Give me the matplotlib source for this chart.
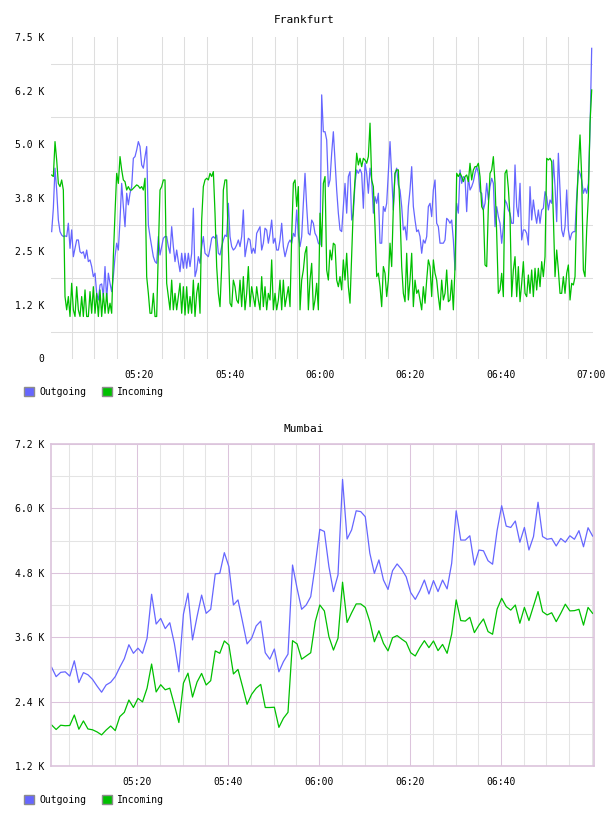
import numpy as np
import matplotlib
matplotlib.use("Agg")
import matplotlib.pyplot as plt
from matplotlib.patches import Patch

plt.rcParams["font.family"] = ["DejaVu Sans Mono", "DejaVu Sans"]
plt.rcParams["font.size"] = 7

OUT_COLOR = "#6666ff"
IN_COLOR = "#00c000"
GRID_GRAY = "#dedede"
GRID_PINK = "#dcc4dc"

# time axis is minutes after 05:00
fra_start, fra_end = 0.6, 120.15
fra_out = [
    2960, 3505, 4440, 3930, 3230, 2960, 2880, 2845, 2860, 2845,
    3155, 2570, 3000, 2375, 2570, 2765, 2765, 2490, 2455, 2490,
    2335, 2530, 2260, 2300, 2145, 1910, 1990, 1520, 1365, 1715,
    1740, 1445, 2145, 1365, 1990, 1755, 1560, 1910, 2375, 2690,
    2530, 3230, 4085, 3545, 3075, 3855, 3585, 3855, 4010, 4670,
    4710, 4865, 5060, 4945, 4515, 4440, 4710, 4945, 3115, 2845,
    2610, 2375, 2260, 2220, 2845, 2415, 2610, 2805, 2845, 2845,
    2610, 2455, 3075, 2610, 2260, 2530, 2260, 2025, 2455, 2105,
    2455, 2105, 2455,
    2145, 2455, 3505, 1910, 2065, 2375, 2220, 2610, 2845, 2455,
    2415, 2375, 2570, 2805, 2845, 2805, 2880, 2455, 2415, 2610,
    2765, 2880, 2845, 3620, 2845, 2610, 2530, 2570, 2650, 2765,
    2610, 2845, 3465, 2375, 2610, 2805, 2765, 2455, 2570, 2455,
    2920, 2995, 3075, 2530, 2690, 3040, 2995, 2690, 2920, 3230,
    2690, 2805, 2530, 2530, 2765, 3155, 2610, 2375, 2530, 2690,
    2765, 2690, 2920, 2845, 3465, 2880, 2610, 2845, 3620, 4320,
    3545, 2920, 2880, 3230, 3155, 2920, 2845, 2690, 2650, 6150,
    5290,
    5290, 5100, 4010, 4165, 4790, 5290, 4630, 3930, 3390, 3000,
    2960, 3545, 4085, 3390, 4245, 4360, 3230, 3390, 4085, 4400,
    4320, 4415, 4320, 3505, 4555, 4320, 3855, 4440, 4165, 3390,
    3775, 3620, 3855, 2690, 2690, 3545, 3430, 3620, 4320, 5060,
    4245, 3465, 4320, 4440, 4050, 3930, 3545, 3000, 3075, 2765,
    3545, 3930, 4475, 3545, 3230, 2960, 3000, 2845, 2455, 2765,
    2690, 2845, 3545, 3620, 3310, 3930, 4165, 3155, 3075, 2690,
    2690, 2690, 2765, 3270, 3230, 3155, 3230, 2765, 2065, 3620,
    3390,
    4398, 4087, 4243, 4204, 3426, 4243, 3931, 4009, 4126, 4320,
    4476, 4320, 3892, 3854, 3465, 3620, 4087, 3698, 4009, 4204,
    4087, 3076, 3542, 3309, 3154, 2687, 3076, 3698, 3620, 3465,
    3387, 3154, 3154, 4515, 3542, 3309, 4087, 2765, 2998, 2998,
    2920, 2648, 4009, 3231, 3698, 3387, 3154, 3465, 3154, 3465,
    3503, 3892, 3776, 3465, 3698, 3620, 4631, 4009, 3192, 4787,
    3931, 2998, 2843, 3076, 3931, 2998, 2765, 2920, 2959, 2959,
    3776, 4398, 4320, 4165, 3854, 3970, 3854, 4087, 5330, 7236,
]
fra_in = [
    4280, 4245, 5060, 4630, 4085, 4010, 4165, 3930, 1445, 1135,
    1445, 980, 1755, 1135, 980, 1675, 1135, 980, 1445, 980,
    1600, 980, 980, 1560, 1055, 1675, 1055, 1520, 980, 1600,
    980, 1520, 1055, 1520, 1055, 1290, 1055, 2375, 3390, 4320,
    4085, 4710, 4400, 4165, 4125, 3930, 4010, 3930, 3930, 3970,
    4010, 4050, 4025, 3970, 4010, 3930, 4205, 1910, 1520, 1055,
    1055, 1520, 980, 980, 2530, 3930, 4010, 4165, 4165, 1755,
    1445, 1135, 1830, 1135, 1520, 1135, 1445, 1755, 1055, 1675,
    1015, 1675, 1055,
    1445, 1055, 1830, 980, 1520, 1755, 1055, 3230, 4010, 4165,
    4205, 4165, 4320, 4245, 4360, 3390, 2145, 1520, 1210, 2145,
    3930, 4165, 4165, 2610, 1290, 1210, 1830, 1675, 1365, 1290,
    1830, 1210, 1910, 1135, 1520, 2145, 1210, 1675, 1445, 1210,
    1675, 1365, 1135, 1910, 1210, 1675, 1135, 1520, 1365, 2300,
    1135, 1520, 1135, 1365, 1830, 1135, 1830, 1210, 1445, 1675,
    1210, 2845, 4085, 4165, 3545, 4010, 1135, 1830, 2065, 2455,
    2610, 1135, 1830, 2220, 1135, 1365, 1755, 1135, 3390, 2610,
    4085,
    4245, 2065, 1830, 2530, 2300, 2690, 2650, 1830, 1675, 1910,
    1600, 2300, 1830, 2455, 1675, 1290, 2455, 3545, 4165, 4790,
    4515, 4670, 4475, 4670, 4630, 4555, 4710, 5490, 4165, 4010,
    3075, 1910, 1990, 1675, 1210, 2145, 1990, 1445, 1830, 2690,
    2145, 3545, 4320, 4400, 4400, 3390, 2145, 1520, 1325, 2455,
    1365, 1830, 2455, 1210, 1830, 1520, 1600, 1365, 1135, 1675,
    1290, 1830, 2300, 2145, 1445, 2300, 1990, 1830, 1445, 1135,
    1830, 1365, 1520, 2065, 1325, 1365, 1830, 1135, 2145, 4320,
    4245,
    4320, 4243, 4126, 4243, 4281, 4126, 4554, 4165, 4398, 4476,
    4476, 4554, 4243, 3542, 3465, 2182, 2143, 3542, 4320, 4398,
    4709, 4087, 2920, 1520, 1598, 1987, 1443, 4320, 4398, 3970,
    3309, 1443, 2065, 2376, 1443, 2143, 1326, 1754, 2259, 1520,
    1443, 1948, 1520, 2065, 1443, 2104, 1598, 2104, 1676, 2259,
    1909, 2376, 4670, 4631, 4670, 4592, 3309, 1909, 2531, 2065,
    1520, 1520, 1909, 1520, 1987, 2182, 1365, 1754, 1715, 1909,
    3542, 4476, 5215, 4243, 2065, 1909, 2998, 3776, 5486, 6265,
]
fra_yticks = [0, 1250, 2500, 3750, 5000, 6250, 7500]
fra_ylabels = ["0", "1.2 K", "2.5 K", "3.8 K", "5.0 K", "6.2 K", "7.5 K"]
fra_xticks = [20, 40, 60, 80, 100, 120]
fra_xlabels = ["05:20", "05:40", "06:00", "06:20", "06:40", "07:00"]

mum_start, mum_end = 1.15, 120.15
mum_out = [
    3040, 2865, 2945, 2955, 2875, 3160, 2755, 2940, 2900, 2815,
    2690, 2575, 2710, 2760, 2865, 3040, 3200, 3460, 3300, 3395,
    3300, 3580, 4400, 3845, 3950, 3760, 3870, 3485, 2955, 4030,
    4420, 3550, 3985, 4385, 4045, 4120, 4780, 4790, 5175, 4915,
    4200, 4295, 3890, 3475, 3580, 3810, 3900, 3310, 3190, 3380,
    2955, 3145, 3285, 4945, 4510, 4120, 4200, 4355, 4945, 5610,
    5570, 4915, 4450, 4760, 6540, 5430, 5600, 5955, 5940, 5845,
    5165, 4790, 5040, 4665, 4490, 4840, 4965, 4865, 4725, 4430,
    4305, 4465, 4665, 4405, 4655, 4450, 4665, 4500, 4975, 5955,
    5410, 5410, 5490, 4945, 5225, 5210, 5025, 4960, 5590, 6050,
    5670, 5645, 5765, 5370, 5645, 5225, 5475, 6115, 5475, 5425,
    5440, 5300, 5440, 5370, 5490, 5425, 5585, 5285, 5640, 5485,
]
mum_in = [
    1965, 1880, 1960, 1950, 1955, 2150, 1885, 2040, 1890, 1875,
    1835, 1780, 1870, 1945, 1860, 2120, 2200, 2430, 2290, 2460,
    2395, 2650, 3100, 2580, 2715, 2620, 2650, 2340, 2010, 2745,
    2930, 2485, 2765, 2925, 2710, 2790, 3345, 3300, 3530, 3455,
    2915, 3000, 2680, 2350, 2535, 2650, 2720, 2290, 2290, 2295,
    1920, 2090, 2200, 3535, 3475, 3190, 3250, 3310, 3890, 4200,
    4090, 3610, 3360, 3580, 4625, 3875, 4055, 4220, 4220, 4155,
    3890, 3515, 3720, 3485, 3345, 3590, 3630, 3565, 3505, 3310,
    3250, 3405, 3535, 3405, 3530, 3350, 3465, 3300, 3655, 4295,
    3910, 3900, 3970, 3685, 3825, 3940, 3705, 3655, 4125, 4325,
    4170, 4105, 4200, 3860, 4155, 3910, 4180, 4450, 4075, 4015,
    4055, 3890, 4045, 4215, 4090, 4095, 4120, 3825, 4155, 4045,
]
mum_yticks = [1200, 2400, 3600, 4800, 6000, 7200]
mum_ylabels = ["1.2 K", "2.4 K", "3.6 K", "4.8 K", "6.0 K", "7.2 K"]
mum_xticks = [20, 40, 60, 80, 100]
mum_xlabels = ["05:20", "05:40", "06:00", "06:20", "06:40"]

fig = plt.figure(figsize=(6.08, 8.16), dpi=100)
W, H = 608.0, 816.0

def legend_at(ypix):
    handles = [Patch(facecolor=OUT_COLOR, edgecolor="#8c8c8c", lw=1.0),
               Patch(facecolor=IN_COLOR, edgecolor="#8c8c8c", lw=1.0)]
    fig.legend(handles, ["Outgoing", "Incoming"], loc="center left",
               bbox_to_anchor=(24 / W, 1 - ypix / H), ncol=2, frameon=False,
               handlelength=1.05, handleheight=1.05, handletextpad=0.5,
               columnspacing=1.65, borderpad=0, borderaxespad=0, fontsize=7)

# ---- Frankfurt ----
ax1 = fig.add_axes([51 / W, 1 - 358.5 / H, 542 / W, 321.5 / H])
t1 = np.linspace(fra_start, fra_end, len(fra_out))
ax1.plot(t1, fra_out, color=OUT_COLOR, lw=0.9)
ax1.plot(t1, fra_in, color=IN_COLOR, lw=0.9)
ax1.set_xlim(0.45, 120.44)
ax1.set_ylim(0, 7500)
ax1.set_xticks(fra_xticks)
ax1.set_xticklabels(fra_xlabels)
ax1.set_xticks(np.arange(5, 121, 5), minor=True)
ax1.set_yticks(fra_yticks)
ax1.set_yticklabels(fra_ylabels)
ax1.set_yticks(np.arange(625, 7500, 1250), minor=True)
ax1.grid(which="minor", color=GRID_GRAY, lw=0.75)
ax1.set_axisbelow(True)
for s in ax1.spines.values():
    s.set_visible(False)
ax1.tick_params(which="both", length=0)
ax1.tick_params(axis="y", pad=5)
ax1.tick_params(axis="x", pad=8)
fig.text(0.5, 1 - 20 / H, "Frankfurt", ha="center", va="center", fontsize=8)
legend_at(392)

# ---- Mumbai ----
ax2 = fig.add_axes([51 / W, 1 - 766 / H, 543 / W, 322 / H])
t2 = np.linspace(mum_start, mum_end, len(mum_out))
ax2.plot(t2, mum_out, color=OUT_COLOR, lw=0.9)
ax2.plot(t2, mum_in, color=IN_COLOR, lw=0.9)
ax2.set_xlim(1.02, 120.46)
ax2.set_ylim(1200, 7200)
ax2.set_xticks(mum_xticks)
ax2.set_xticklabels(mum_xlabels)
ax2.set_xticks(np.arange(5, 121, 5), minor=True)
ax2.set_yticks(mum_yticks)
ax2.set_yticklabels(mum_ylabels)
ax2.set_yticks(np.arange(1800, 7200, 1200), minor=True)
ax2.grid(which="minor", color="#e4e4e4", lw=0.75)
ax2.grid(which="major", color=GRID_PINK, lw=0.75)
ax2.set_axisbelow(True)
for s in ax2.spines.values():
    s.set_color(GRID_PINK)
    s.set_linewidth(1.2)
ax2.tick_params(which="both", length=0)
ax2.tick_params(axis="y", pad=5)
ax2.tick_params(axis="x", pad=8)
fig.text(0.5, 1 - 429 / H, "Mumbai", ha="center", va="center", fontsize=8)
legend_at(800)

fig.savefig("out.png", dpi=100)
